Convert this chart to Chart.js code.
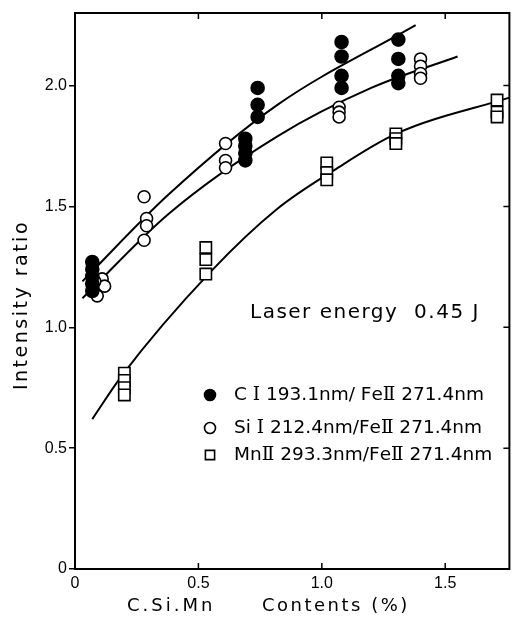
<!DOCTYPE html>
<html>
<head>
<meta charset="utf-8">
<script src="https://cdn.jsdelivr.net/npm/chart.js@4.4.0/dist/chart.umd.min.js"></script>
<style>
  html, body { margin: 0; padding: 0; background: #fff; }
  #wrap { width: 519px; height: 628px; position: relative; }
</style>
</head>
<body>
<div id="wrap"><canvas id="chart"></canvas></div>
<script>
// measured points, C I 193.1nm / Fe II 271.4nm
const cX = [0.07, 0.07, 0.07, 0.07, 0.07, 0.69, 0.69, 0.69, 0.69, 0.74, 0.74, 0.74, 1.08, 1.08, 1.08, 1.08, 1.31, 1.31, 1.31, 1.31];
const cY = [1.27, 1.24, 1.21, 1.18, 1.15, 1.78, 1.75, 1.72, 1.69, 1.99, 1.92, 1.87, 2.18, 2.12, 2.04, 1.99, 2.19, 2.11, 2.04, 2.01];
// Si I 212.4nm / Fe II 271.4nm
const siX = [0.11, 0.12, 0.09, 0.08, 0.28, 0.29, 0.29, 0.28, 0.61, 0.61, 0.61, 1.07, 1.07, 1.07, 1.40, 1.40, 1.40, 1.40];
const siY = [1.20, 1.17, 1.13, 1.19, 1.54, 1.45, 1.42, 1.36, 1.76, 1.69, 1.66, 1.91, 1.89, 1.87, 2.11, 2.08, 2.05, 2.03];
// Mn II 293.3nm / Fe II 271.4nm
const mnX = [0.20, 0.20, 0.20, 0.20, 0.53, 0.53, 0.53, 1.02, 1.02, 1.02, 1.30, 1.30, 1.30, 1.71, 1.71, 1.71];
const mnY = [0.81, 0.78, 0.75, 0.72, 1.33, 1.28, 1.22, 1.68, 1.64, 1.61, 1.80, 1.78, 1.76, 1.94, 1.89, 1.87];

// hand drawn fit curves
const cCurveX = [0.03, 0.38, 0.82, 1.38];
const cCurveY = [1.19, 1.55, 1.92, 2.25];
const siCurveX = [0.03, 0.38, 0.82, 1.20, 1.55];
const siCurveY = [1.12, 1.47, 1.79, 1.99, 2.12];
const mnCurveX = [0.07, 0.19, 0.55, 0.82, 1.05, 1.30, 1.76];
const mnCurveY = [0.62, 0.80, 1.23, 1.49, 1.65, 1.80, 1.95];

const legendLabels = ['C \u2160 193.1nm/ Fe\u2161 271.4nm', 'Si \u2160 212.4nm/Fe\u2161 271.4nm', 'Mn\u2161 293.3nm/Fe\u2161 271.4nm'];
const noteText = 'Laser energy  0.45 J';
const xTitle = ['C.Si.Mn', 'Contents (%)'];
const yTitle = 'Intensity ratio';
const xTicks = [0.5, 1.0, 1.5];
const yTicks = [0.5, 1.0, 1.5, 2.0];

function pts(xs, ys) {
    return xs.map((x, i) => ({ x: x, y: ys[i] }));
}

const markerStyles = [
    { pointStyle: 'circle', radius: 6.5, fill: '#000' },
    { pointStyle: 'circle', radius: 6, fill: '#fff' },
    { pointStyle: 'rect', radius: 8, fill: '#fff' }
];

// draw text, roman numerals in a serif face like the original print
function drawMixed(ctx, text, x, y, size) {
    let cx = x;
    for (const ch of text) {
        const roman = ch === '\u2160' || ch === '\u2161';
        ctx.font = roman ? size + 'px "DejaVu Serif"' : size + 'px "DejaVu Sans"';
        ctx.fillText(ch, cx, y);
        cx += ctx.measureText(ch).width;
    }
}

const framePlugin = {
    id: 'frame',
    afterDraw(chart) {
        const ctx = chart.ctx;
        const a = chart.chartArea;
        const xs = chart.scales.x, ys = chart.scales.y;
        ctx.save();
        ctx.strokeStyle = '#000';
        ctx.lineWidth = 2;
        ctx.strokeRect(a.left, a.top, a.right - a.left, a.bottom - a.top);
        // inward ticks
        ctx.lineWidth = 1.5;
        ctx.beginPath();
        for (const v of xTicks) {
            const px = xs.getPixelForValue(v);
            ctx.moveTo(px, a.bottom); ctx.lineTo(px, a.bottom - 6);
            ctx.moveTo(px, a.top); ctx.lineTo(px, a.top + 6);
        }
        for (const v of yTicks) {
            const py = ys.getPixelForValue(v);
            ctx.moveTo(a.right, py); ctx.lineTo(a.right - 6, py);
        }
        ctx.stroke();

        ctx.fillStyle = '#000';
        ctx.textBaseline = 'middle';
        ctx.textAlign = 'left';
        ctx.font = '20px "DejaVu Sans"';
        ctx.letterSpacing = '1.5px';
        ctx.fillText(noteText, 250, 313);

        // legend
        ctx.letterSpacing = '0px';
        const rows = [395, 428, 455];
        legendLabels.forEach((label, i) => {
            const m = markerStyles[i];
            ctx.fillStyle = m.fill;
            ctx.strokeStyle = '#000';
            ctx.lineWidth = 1.6;
            Chart.helpers.drawPoint(ctx, { pointStyle: m.pointStyle, radius: i === 2 ? 6.5 : 5.5, borderWidth: 1.6, rotation: 0 }, 210, rows[i]);
            ctx.fillStyle = '#000';
            drawMixed(ctx, label, 234, rows[i], 18.5);
        });

        // axis titles
        ctx.font = '18px "DejaVu Sans"';
        ctx.letterSpacing = '3px';
        ctx.fillText(xTitle[0], 127, 606);
        ctx.letterSpacing = '2.5px';
        ctx.fillText(xTitle[1], 262, 606);
        ctx.translate(22, 305);
        ctx.rotate(-Math.PI / 2);
        ctx.textAlign = 'center';
        ctx.font = '19px "DejaVu Sans"';
        ctx.fillText(yTitle, 0, 0);
        ctx.restore();
    }
};

document.addEventListener('DOMContentLoaded', () => {
    const ctx = document.getElementById('chart').getContext('2d');
    const pointSets = [[cX, cY], [siX, siY], [mnX, mnY]];
    const curveSets = [[cCurveX, cCurveY], [siCurveX, siCurveY], [mnCurveX, mnCurveY]];
    const datasets = [];
    pointSets.forEach((s, i) => {
        const m = markerStyles[i];
        datasets.push({
            type: 'scatter',
            label: legendLabels[i],
            data: pts(s[0], s[1]),
            pointStyle: m.pointStyle,
            pointRadius: m.radius,
            pointBackgroundColor: m.fill,
            pointBorderColor: '#000',
            pointBorderWidth: 1.6,
            order: 1
        });
    });
    curveSets.forEach((s) => {
        datasets.push({
            type: 'line',
            data: pts(s[0], s[1]),
            borderColor: '#000',
            borderWidth: 2,
            pointRadius: 0,
            fill: false,
            cubicInterpolationMode: 'monotone',
            order: 2
        });
    });

    new Chart(ctx, {
        type: 'scatter',
        data: { datasets: datasets },
        options: {
            responsive: true,
            maintainAspectRatio: false,
            animation: false,
            layout: { padding: { top: 13, right: 4, left: 0, bottom: 0 } },
            plugins: {
                legend: { display: false },
                tooltip: { enabled: false }
            },
            scales: {
                x: {
                    type: 'linear',
                    min: 0,
                    max: 1.76,
                    afterFit: (scale) => { scale.height = 59; },
                    grid: { display: false },
                    border: { display: false },
                    ticks: {
                        stepSize: 0.5,
                        includeBounds: false,
                        padding: -3,
                        color: '#000',
                        font: { family: 'Liberation Sans', size: 16 },
                        callback: (v) => v === 0 ? '0' : v.toFixed(1)
                    }
                },
                y: {
                    type: 'linear',
                    min: 0,
                    max: 2.3,
                    afterFit: (scale) => { scale.width = 75; },
                    grid: { drawOnChartArea: false, drawTicks: true, tickLength: 6, color: '#000', lineWidth: 1.5 },
                    border: { display: false },
                    ticks: {
                        stepSize: 0.5,
                        includeBounds: false,
                        padding: 2,
                        color: '#000',
                        font: { family: 'Liberation Sans', size: 16 },
                        callback: (v) => v === 0 ? '0' : v.toFixed(1)
                    }
                }
            }
        },
        plugins: [framePlugin]
    });
});
</script>
</body>
</html>
